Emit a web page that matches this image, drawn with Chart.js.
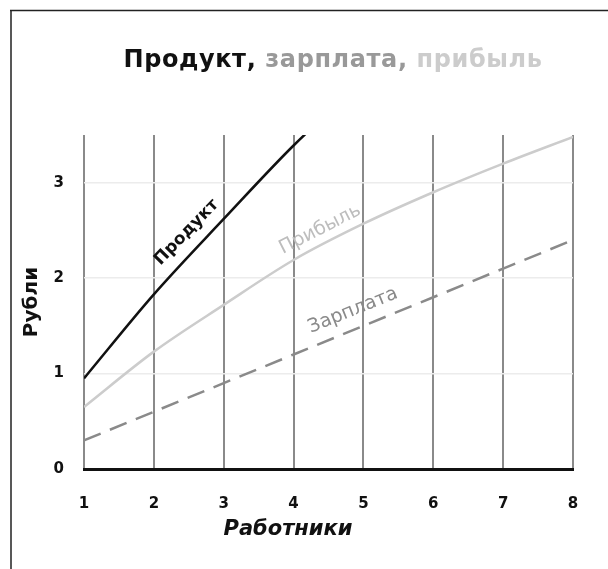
<!DOCTYPE html>
<html>
<head>
<meta charset="utf-8">
<script src="https://cdn.jsdelivr.net/npm/chart.js@4"></script>
<style>
  html, body { margin: 0; padding: 0; background: #fff; }
  #wrap { width: 608px; height: 569px; }
</style>
</head>
<body>
<div id="wrap"><canvas id="chart"></canvas></div>
<script>
const workers = [1, 2, 3, 4, 5, 6, 7, 8]
const product = [0.95, 1.83, 2.62, 3.39, 4.07]
const wage = [0.3, 0.6, 0.9, 1.2, 1.5, 1.8, 2.1, 2.4]
const profit = [0.65, 1.23, 1.72, 2.19, 2.57, 2.9, 3.2, 3.48]
const yTicks = [0, 1, 2, 3]

const titleParts = [
    { text: 'Продукт, ', color: '#111' },
    { text: 'зарплата, ', color: '#999' },
    { text: 'прибыль', color: '#cccccc' }
]

// подписи у линий (координаты в единицах осей)
const lineLabels = [
    { text: 'Продукт', x: 2.47, y: 2.48, angle: -46, color: '#111', font: 'bold 17px "DejaVu Sans"' },
    { text: 'Прибыль', x: 4.38, y: 2.51, angle: -27, color: '#bdbdbd', font: '19px "DejaVu Sans"' },
    { text: 'Зарплата', x: 4.85, y: 1.66, angle: -22, color: '#8a8a8a', font: '19px "DejaVu Sans"' }
]

const toPoints = vals => vals.map((v, i) => ({ x: workers[i], y: v }))

const decor = {
    id: 'decor',
    beforeDraw(chart) {
        const ctx = chart.ctx
        ctx.save()
        ctx.fillStyle = '#fff'
        ctx.fillRect(0, 0, chart.width, chart.height)
        ctx.strokeStyle = '#222'
        ctx.lineWidth = 1.5
        ctx.beginPath()
        ctx.moveTo(10, 10.5)
        ctx.lineTo(chart.width, 10.5)
        ctx.moveTo(11, 10)
        ctx.lineTo(11, chart.height)
        ctx.stroke()
        ctx.restore()
    },
    afterDraw(chart) {
        const ctx = chart.ctx
        const xs = chart.scales.x
        const ys = chart.scales.y
        ctx.save()

        // заголовок в три цвета
        ctx.font = 'bold 24px "DejaVu Sans"'
        ctx.letterSpacing = '0.6px'
        ctx.textBaseline = 'middle'
        ctx.textAlign = 'left'
        const total = titleParts.reduce((s, p) => s + ctx.measureText(p.text).width, 0)
        let x = 333 - total / 2
        titleParts.forEach(p => {
            ctx.fillStyle = p.color
            ctx.fillText(p.text, x, 61)
            x += ctx.measureText(p.text).width
        })
        ctx.letterSpacing = '0px'

        // подпись оси X
        ctx.font = 'italic bold 21px "DejaVu Sans"'
        ctx.fillStyle = '#111'
        ctx.textAlign = 'center'
        ctx.fillText('Работники', 288, 530)

        // подписи у линий
        lineLabels.forEach(l => {
            ctx.save()
            ctx.translate(xs.getPixelForValue(l.x), ys.getPixelForValue(l.y))
            ctx.rotate(l.angle * Math.PI / 180)
            ctx.font = l.font
            ctx.fillStyle = l.color
            ctx.textAlign = 'center'
            ctx.textBaseline = 'middle'
            ctx.fillText(l.text, 0, 0)
            ctx.restore()
        })
        ctx.restore()
    }
}

const tickFont = { family: '"DejaVu Sans"', size: 15, weight: 'bold' }

new Chart(document.getElementById('chart'), {
    type: 'line',
    data: {
        datasets: [{
            label: 'Прибыль',
            data: toPoints(profit),
            borderColor: '#cccccc',
            borderWidth: 2.5,
            cubicInterpolationMode: 'monotone',
            pointRadius: 0
        }, {
            label: 'Зарплата',
            data: toPoints(wage),
            borderColor: '#8a8a8a',
            borderWidth: 2.5,
            borderDash: [18, 10],
            pointRadius: 0
        }, {
            label: 'Продукт',
            data: toPoints(product),
            borderColor: '#111',
            borderWidth: 2.5,
            cubicInterpolationMode: 'monotone',
            pointRadius: 0
        }]
    },
    options: {
        responsive: true,
        maintainAspectRatio: false,
        animation: false,
        events: [],
        layout: { padding: { left: 0, right: 35, top: 135, bottom: 0 } },
        plugins: {
            legend: { display: false },
            title: { display: false },
            tooltip: { enabled: false }
        },
        scales: {
            x: {
                type: 'linear',
                min: 1,
                max: 8,
                afterFit: s => { s.height = 100 },
                afterBuildTicks: s => { s.ticks = workers.map(v => ({ value: v })) },
                grid: { color: '#8a8a8a', lineWidth: 2, drawTicks: false },
                border: { display: true, color: '#111', width: 3, z: 1 },
                ticks: { font: tickFont, color: '#111', padding: 26 }
            },
            y: {
                min: 0,
                max: 3.5,
                afterFit: s => { s.width = 84 },
                afterBuildTicks: s => { s.ticks = yTicks.map(v => ({ value: v })) },
                grid: { color: c => c.tick && c.tick.value === 0 ? 'rgba(0,0,0,0)' : '#ececec', lineWidth: 1.5, drawTicks: false },
                border: { display: false },
                ticks: { font: tickFont, color: '#111', padding: 20 },
                title: {
                    display: true,
                    text: 'Рубли',
                    color: '#111',
                    font: { family: '"DejaVu Sans"', size: 20, weight: 'bold' },
                    padding: { top: 20, bottom: 0 }
                }
            }
        }
    },
    plugins: [decor]
})
</script>
</body>
</html>
